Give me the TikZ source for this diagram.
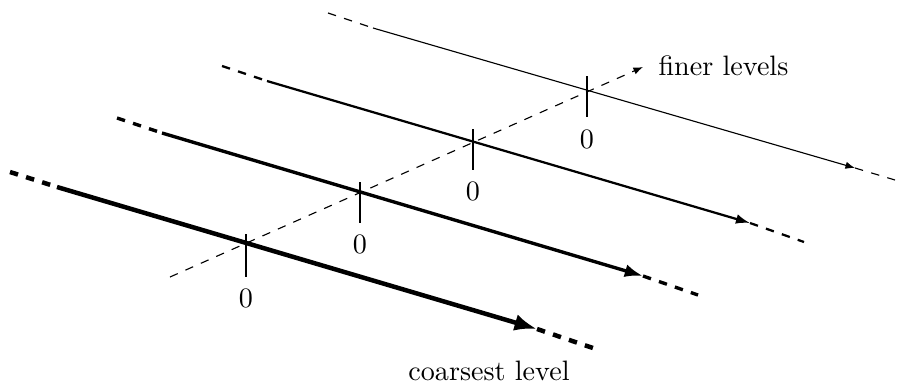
\documentclass[tikz,border=0pt]{standalone}
\usetikzlibrary{arrows.meta}
\begin{document}
\begin{tikzpicture}[x=0.3559pt,y=-0.3559pt,
  lvlA/.style={line width=1.6pt},
  lvlB/.style={line width=1.2pt},
  lvlC/.style={line width=0.8pt},
  lvlD/.style={line width=0.4pt},
  tipA/.style={-{Latex[length=8pt,width=6pt]}},
  tipB/.style={-{Latex[length=6.5pt,width=4.6pt]}},
  tipC/.style={-{Latex[length=5pt,width=3.5pt]}},
  tipD/.style={-{Latex[length=3.4pt,width=2.6pt]}},
  tick/.style={line width=0.4pt},
  zero/.style={anchor=north,inner sep=0pt},
  lbl/.style={inner sep=0pt}]
\useasboundingbox (0,0) rectangle (902,385);
% level 1 (coarsest)
\coordinate (s1) at (10,172);
\coordinate (a1) at (57,187);
\coordinate (t1) at (537,329);
\coordinate (e1) at (593,348);
% level 2
\coordinate (s2) at (117,118);
\coordinate (a2) at (162,133);
\coordinate (t2) at (643,276);
\coordinate (e2) at (698,295);
% level 3
\coordinate (s3) at (222,66);
\coordinate (a3) at (267,81);
\coordinate (t3) at (750,223);
\coordinate (e3) at (804,242);
% level 4
\coordinate (s4) at (328,13);
\coordinate (a4) at (373,28);
\coordinate (t4) at (855,168);
\coordinate (e4) at (895,180);
% diagonal axis
\coordinate (d0) at (170,277);
\coordinate (d1) at (643,67);
\draw[lvlD,dashed,tipD] (d0) -- (d1);
% lines
\draw[lvlA,dashed] (s1) -- (a1);
\draw[lvlA,tipA] (a1) -- (t1);
\draw[lvlA,dashed] (t1) -- (e1);
\draw[lvlB,dashed] (s2) -- (a2);
\draw[lvlB,tipB] (a2) -- (t2);
\draw[lvlB,dashed] (t2) -- (e2);
\draw[lvlC,dashed] (s3) -- (a3);
\draw[lvlC,tipC] (a3) -- (t3);
\draw[lvlC,dashed] (t3) -- (e3);
\draw[lvlD,dashed] (s4) -- (a4);
\draw[lvlD,tipD] (a4) -- (t4);
\draw[lvlD,dashed] (t4) -- (e4);
% ticks
\coordinate (k1t) at (246,234); \coordinate (k1b) at (246,277);
\coordinate (k2t) at (360,182); \coordinate (k2b) at (360,223);
\coordinate (k3t) at (473,129); \coordinate (k3b) at (473,170);
\coordinate (k4t) at (587,76);  \coordinate (k4b) at (587,117);
\draw[tick] (k1t) -- (k1b);
\draw[tick] (k2t) -- (k2b);
\draw[tick] (k3t) -- (k3b);
\draw[tick] (k4t) -- (k4b);
\node[zero] (z1) at (246,288) {0};
\node[zero] (z2) at (360,234) {0};
\node[zero] (z3) at (473,181) {0};
\node[zero] (z4) at (587,129) {0};
\node[lbl,anchor=west] (fl) at (658,66) {finer levels};
\node[lbl] (cl) at (489,371) {coarsest level};
\end{tikzpicture}
\end{document}
